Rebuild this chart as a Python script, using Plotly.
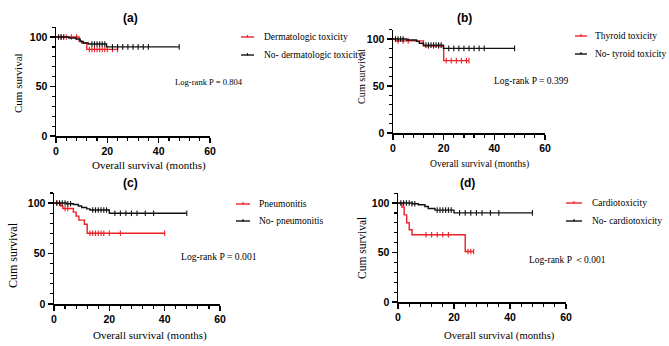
import numpy as np
import plotly.graph_objects as go

W, H = 669, 346

# ---------------- data ----------------
panel_labels = ["(a)", "(b)", "(c)", "(d)"]
group_labels = [
    ["Dermatologic toxicity", "No- dermatologic toxicity"],
    ["Thyroid toxicity", "No- tyroid toxicity"],
    ["Pneumonitis", "No- pneumonitis"],
    ["Cardiotoxicity", "No- cardiotoxicity"],
]
pvalue_texts = ["Log-rank P = 0.804", "Log-rank P = 0.399",
                "Log-rank P = 0.001", "Log-rank P \uff1c0.001"]

# (a)
a_tox_t = [0, 9, 10, 12, 24]
a_tox_s = [100, 96, 94, 87.5, 87.5]
a_tox_c = [2, 4, 6, 8, 13, 14, 15, 16, 17, 18, 19, 20, 22, 24]
a_no_t = [0, 5, 7.8, 9.4, 10.6, 12.6, 19.7, 48]
a_no_s = [100, 99, 98, 95.5, 94, 93, 90, 90]
a_no_c = [1, 2, 3, 14, 15, 16, 17, 18, 19, 22, 24, 26, 28, 30, 32, 34, 36, 48]

# (b)
b_tox_t = [0, 1, 12, 20, 30]
b_tox_s = [100, 98, 92.5, 77, 77]
b_tox_c = [2, 4, 6, 14, 16, 18, 21, 23, 25, 27, 29, 30]
b_no_t = [0, 5.4, 9.3, 10.4, 12, 19.9, 48]
b_no_s = [100, 99, 97.5, 95.5, 93.5, 90, 90]
b_no_c = [1, 2, 3, 4, 13, 14, 15, 16, 17, 18, 19, 22, 24, 26, 28, 30, 32, 34, 36, 48]

# (c)
c_tox_t = [0, 2.4, 3.2, 7, 8, 9, 11, 12, 40]
c_tox_s = [100, 97, 94.5, 91, 87, 83, 79, 70, 70]
c_tox_c = [1, 4, 5, 13, 14, 15, 16, 17, 18, 20, 24, 40]
c_no_t = [0, 4.5, 7, 8.8, 10, 11.8, 13, 20, 48]
c_no_s = [100, 99.3, 98.5, 97, 95.5, 94.2, 93, 89.8, 89.8]
c_no_c = [1, 2, 3, 4, 5, 6, 14, 15, 16, 17, 18, 19, 22, 24, 26, 28, 30, 33, 36, 48]

# (d)
d_tox_t = [0, 1.4, 2.2, 3.1, 4, 5, 24, 27]
d_tox_s = [100, 96, 88, 80, 73, 68, 51, 51]
d_tox_c = [10, 12, 14, 16, 18, 25, 26, 27]
d_no_t = [0, 5, 7.3, 9.6, 10.8, 13.2, 20, 48]
d_no_s = [100, 99.3, 98.3, 96.5, 94.5, 92.8, 90, 90]
d_no_c = [1, 2, 3, 4, 5, 6, 14, 15, 16, 17, 18, 19, 22, 24, 26, 28, 30, 33, 36, 48]

x_tickvals = [0, 20, 40, 60]
y_tickvals = [0, 50, 100]

series = [
    [(a_tox_t, a_tox_s, a_tox_c), (a_no_t, a_no_s, a_no_c)],
    [(b_tox_t, b_tox_s, b_tox_c), (b_no_t, b_no_s, b_no_c)],
    [(c_tox_t, c_tox_s, c_tox_c), (c_no_t, c_no_s, c_no_c)],
    [(d_tox_t, d_tox_s, d_tox_c), (d_no_t, d_no_s, d_no_c)],
]

# ---------------- layout geometry (pixels) ----------------
RED = "#ec2026"
BLACK = "#111111"
colors = [RED, BLACK]

def fx(x):
    return x / W

def fy(y):
    return 1 - y / H

geo = [
    dict(x0=56, x1=210, y0=136, y1=27.1, title=(130, 18), xt=(149, 166, 11), yt=(18, 83, 11),
         p=(173, 82, 8.6), leg=(241, 254, 262, [37, 55])),
    dict(x0=393, x1=545, y0=133, y1=29.6, title=(464, 18), xt=(479, 164, 9.6), yt=(361, 77, 10.2),
         p=(492, 81, 9.5), leg=(575, 587, 593, [36, 54])),
    dict(x0=54, x1=220, y0=304, y1=192.9, title=(130, 183), xt=(150, 335, 11), yt=(13, 255, 12),
         p=(179, 256, 9.7), leg=(236, 250, 257, [204, 221])),
    dict(x0=398, x1=566, y0=302, y1=193.1, title=(467, 183), xt=(499, 335, 10.7), yt=(362, 248, 11.5),
         p=(527, 260, 9.5), leg=(566, 582, 590, [203, 221])),
]

fig = go.Figure()
annotations = []
shapes = []

def surv_at(times, surv, t):
    idx = np.searchsorted(np.array(times), t, side="right") - 1
    return [surv[i] for i in idx]

for i, (g, ser) in enumerate(zip(geo, series)):
    n = i + 1
    xa = "x" if n == 1 else f"x{n}"
    ya = "y" if n == 1 else f"y{n}"
    for j, (t, s, c) in enumerate(ser):
        fig.add_trace(go.Scatter(
            x=t, y=s, mode="lines", line=dict(color=colors[j], width=1.4, shape="hv"),
            xaxis=xa, yaxis=ya, showlegend=False, name=group_labels[i][j], cliponaxis=False))
        fig.add_trace(go.Scatter(
            x=c, y=surv_at(t, s, c), mode="markers",
            marker=dict(symbol="line-ns-open", size=4, color=colors[j],
                        line=dict(width=1.1, color=colors[j])),
            xaxis=xa, yaxis=ya, showlegend=False, hoverinfo="skip", cliponaxis=False))

    axis_common = dict(showline=True, linecolor="black", linewidth=1.5, ticks="outside",
                       ticklen=5, tickwidth=1.5, tickcolor="black", showgrid=False, zeroline=False,
                       automargin=False,
                       tickfont=dict(family="Liberation Sans", size=10.5, color="black", weight="bold"))
    fig.layout[f"xaxis{'' if n == 1 else n}"] = dict(
        domain=[fx(g["x0"]), fx(g["x1"])], range=[0, 60], anchor=ya,
        tickvals=x_tickvals,
        minor=dict(dtick=4, tick0=0, ticks="outside", ticklen=3, tickwidth=1.2, tickcolor="black"),
        **axis_common)
    fig.layout[f"yaxis{'' if n == 1 else n}"] = dict(
        domain=[fy(g["y0"]), fy(g["y1"])], range=[0, 110], anchor=xa,
        tickvals=y_tickvals,
        minor=dict(dtick=10, tick0=0, ticks="outside", ticklen=3, tickwidth=1.2, tickcolor="black"),
        **axis_common)

    annotations.append(dict(text=panel_labels[i], x=fx(g["title"][0]), y=fy(g["title"][1]),
                            xref="paper", yref="paper", showarrow=False, xanchor="center", yanchor="middle",
                            font=dict(family="Liberation Sans", size=12, color="black", weight="bold")))
    annotations.append(dict(text="Overall survival (months)", x=fx(g["xt"][0]), y=fy(g["xt"][1]),
                            xref="paper", yref="paper", showarrow=False, xanchor="center", yanchor="middle",
                            font=dict(family="Liberation Serif", size=g["xt"][2], color="black", weight="normal")))
    annotations.append(dict(text="Cum survival", x=fx(g["yt"][0]), y=fy(g["yt"][1]), textangle=-90,
                            xref="paper", yref="paper", showarrow=False, xanchor="center", yanchor="middle",
                            font=dict(family="Liberation Serif", size=g["yt"][2], color="black", weight="normal")))
    annotations.append(dict(text=pvalue_texts[i], x=fx(g["p"][0]), y=fy(g["p"][1]),
                            xref="paper", yref="paper", showarrow=False, xanchor="left", yanchor="middle",
                            font=dict(family="Liberation Serif", size=g["p"][2], color="black")))
    lx0, lx1, tx, rows = g["leg"]
    for j in range(2):
        ry = rows[j]
        shapes.append(dict(type="line", xref="paper", yref="paper", x0=fx(lx0), x1=fx(lx1),
                           y0=fy(ry), y1=fy(ry), line=dict(color=colors[j], width=1.4)))
        mx = (lx0 + lx1) / 2
        shapes.append(dict(type="line", xref="paper", yref="paper", x0=fx(mx), x1=fx(mx),
                           y0=fy(ry - 2), y1=fy(ry + 0.5), line=dict(color=colors[j], width=1.1)))
        annotations.append(dict(text=group_labels[i][j], x=fx(tx), y=fy(ry),
                                xref="paper", yref="paper", showarrow=False, xanchor="left", yanchor="middle",
                                font=dict(family="Liberation Serif", size=9.5, color="black")))

fig.update_layout(template="none", width=W, height=H, margin=dict(l=0, r=0, t=0, b=0),
                  paper_bgcolor="white", plot_bgcolor="white",
                  annotations=annotations, shapes=shapes, showlegend=False)

fig.write_html("out.html", config={"displayModeBar": False, "staticPlot": True},
               post_script="document.body.style.margin='0px';document.body.style.overflow='hidden';")
